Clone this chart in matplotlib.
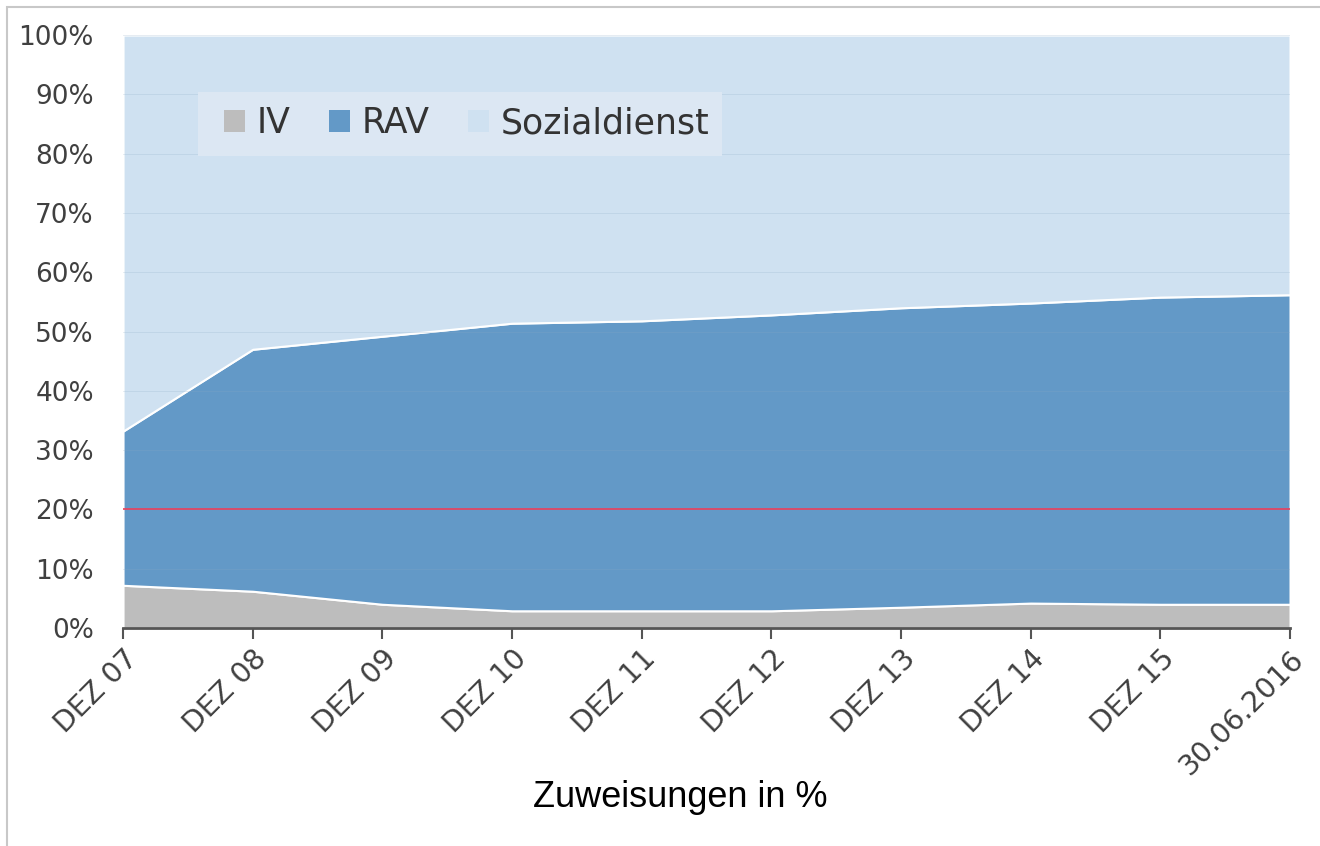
import matplotlib.pyplot as plt
import numpy as np
from matplotlib.patches import Rectangle

# data (percent of assignments)
categories = ["DEZ 07", "DEZ 08", "DEZ 09", "DEZ 10", "DEZ 11",
              "DEZ 12", "DEZ 13", "DEZ 14", "DEZ 15", "30.06.2016"]
iv = [7.2, 6.2, 4.0, 2.9, 2.9, 2.9, 3.5, 4.2, 4.0, 4.0]
rav = [26.0, 40.8, 45.2, 48.5, 48.9, 49.9, 50.5, 50.6, 51.8, 52.2]
sozialdienst = [100 - a - b for a, b in zip(iv, rav)]
ref_line = 20

col_iv = "#bdbdbd"
col_rav = "#6399c7"
col_soz = "#cfe1f1"

fig = plt.figure(figsize=(13.2, 8.46), dpi=100)
ax = fig.add_axes([0.0932, 0.2577, 0.8841, 0.7009])

x = np.arange(len(categories))
ax.stackplot(x, iv, rav, sozialdienst, colors=[col_iv, col_rav, col_soz],
             edgecolor="white", linewidth=1.5)

# faint gridlines on top of the areas (skip 20 %, the red line sits there)
for v in range(10, 101, 10):
    if v != ref_line:
        ax.axhline(v, color="#8aa9c4", lw=0.6, alpha=0.25, zorder=3)

# reference line at 20 %
ax.axhline(ref_line, color="#ea3f5b", lw=1.2, zorder=4)

ax.set_xlim(0, len(categories) - 1)
ax.set_ylim(0, 100)
ax.set_yticks(range(0, 101, 10))
ax.set_yticklabels([f"{v}%" for v in range(0, 101, 10)], fontsize=19, color="#404040")
ax.set_xticks(x)
ax.set_xticklabels(categories, fontsize=20.5, color="#404040",
                   rotation=45, ha="right", va="top", rotation_mode="anchor")
ax.tick_params(axis="y", length=0, pad=21)
ax.tick_params(axis="x", length=8, width=1.5, color="#555555", pad=4)
for s in ["left", "right", "top"]:
    ax.spines[s].set_visible(False)
ax.spines["bottom"].set_color("#555555")
ax.spines["bottom"].set_linewidth(2)
ax.spines["bottom"].set_zorder(5)

# legend background box, then the legend entries centred on it
box_l, box_t, box_r, box_b = 198, 92, 722, 156
ax.add_patch(Rectangle((box_l / 1320, 1 - box_b / 846),
                       (box_r - box_l) / 1320, (box_b - box_t) / 846,
                       transform=fig.transFigure, facecolor="#dce7f3",
                       edgecolor="none", zorder=5, clip_on=False))
handles = [Rectangle((0, 0), 1, 1, facecolor=c, edgecolor="none")
           for c in (col_iv, col_rav, col_soz)]
leg = ax.legend(handles, ["IV", "RAV", "Sozialdienst"],
                loc="center", bbox_to_anchor=(467 / 1320, 1 - 123 / 846),
                bbox_transform=fig.transFigure, borderaxespad=0, ncol=3, fontsize=25,
                frameon=False, handlelength=0.6, handleheight=0.6,
                handletextpad=0.35, columnspacing=1.1, borderpad=0,
                labelcolor="#333333")
leg.set_zorder(6)

fig.text(680 / 1320, 1 - 797 / 846, "Zuweisungen in %", fontsize=26,
         family="Liberation Sans", ha="center", va="center", color="black")

# light frame around the whole chart
fig.patches.append(Rectangle((7 / 1320, -0.01), 1.0, 1 - 7 / 846 + 0.01,
                             transform=fig.transFigure, fill=False,
                             edgecolor="#c8c8c8", lw=1.5))

fig.savefig("out.png", dpi=100)
